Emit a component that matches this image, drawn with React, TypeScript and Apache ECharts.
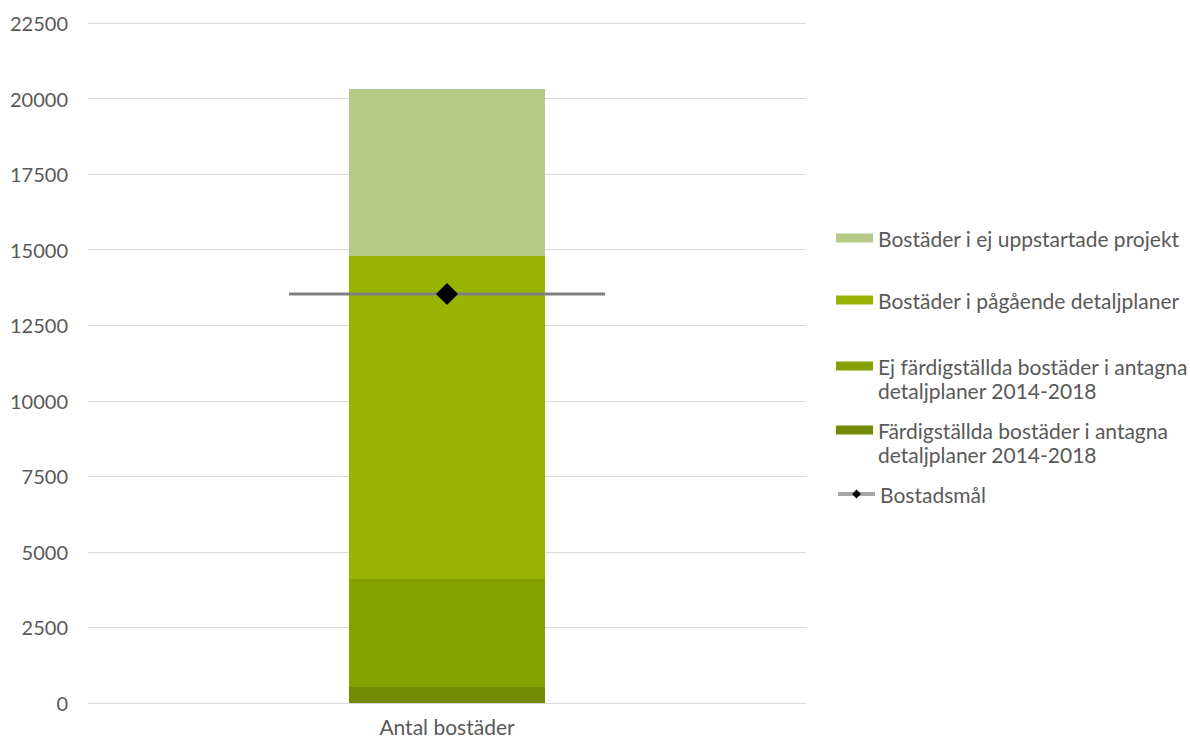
import React, { useEffect, useRef } from "react";
import * as echarts from "echarts";

const categories = ["Antal bostäder"];
const seriesNames = [
  "Färdigställda bostäder i antagna\ndetaljplaner 2014-2018",
  "Ej färdigställda bostäder i antagna\ndetaljplaner 2014-2018",
  "Bostäder i pågående detaljplaner",
  "Bostäder i ej uppstartade projekt",
];
const seriesValues = [530, 3570, 10690, 5530];
const seriesColors = ["#718a00", "#86a200", "#99b400", "#b6c986"];
const goalName = "Bostadsmål";
const goalValues = [13530];
const yTicks = { min: 0, max: 22500, interval: 2500 };

const FONT = "Lato, 'Open Sans', sans-serif";
const TEXT = "#595959";

export default function App() {
  const ref = useRef<HTMLDivElement>(null);
  useEffect(() => {
    if (!ref.current) return;
    const chart = echarts.init(ref.current, null, { renderer: "svg" });
    const barSeries = seriesNames.map((name, i) => ({
      name,
      type: "bar",
      stack: "total",
      barWidth: "27.3%",
      itemStyle: { color: seriesColors[i] },
      data: [seriesValues[i]],
    }));
    const legendTops = [226, 288, 330, 394, 482];
    const legendOrder = [seriesNames[3], seriesNames[2], seriesNames[1], seriesNames[0], goalName];
    const legends = legendOrder.map((name, i) => {
      const isGoal = name === goalName;
      return {
        data: [isGoal ? { name } : { name, icon: "rect" }],
        left: 836,
        top: legendTops[i],
        padding: 0,
        orient: "vertical",
        itemWidth: 37,
        itemHeight: isGoal ? 11 : 9,
        selectedMode: false,
        lineStyle: isGoal ? { width: 4, color: "#a6a6a6" } : undefined,
        formatter: (n: string) => (n.includes("\n") ? " \n" + n : n),
        textStyle: {
          color: TEXT,
          fontFamily: FONT,
          fontSize: 21,
          lineHeight: 24,
        },
      };
    });
    chart.setOption({
      animation: false,
      grid: { left: 88, right: 384, top: 23, bottom: 37, containLabel: false },
      legend: legends,
      xAxis: {
        type: "category",
        data: categories,
        axisLine: { lineStyle: { color: "#d9d9d9", width: 1 } },
        axisTick: { show: false },
        axisLabel: { color: TEXT, fontFamily: FONT, fontSize: 21, margin: 13 },
      },
      yAxis: {
        type: "value",
        min: yTicks.min,
        max: yTicks.max,
        interval: yTicks.interval,
        axisLine: { show: false },
        axisTick: { show: false },
        splitLine: { lineStyle: { color: "#d9d9d9", width: 1 } },
        axisLabel: {
          color: TEXT,
          fontFamily: FONT,
          fontSize: 20,
          margin: 20,
          formatter: (v: number) => String(v),
        },
      },
      series: [
        ...barSeries,
        {
          name: "goalLine",
          type: "custom",
          z: 5,
          data: [[0, goalValues[0]]],
          encode: { x: 0, y: 1 },
          renderItem: (params: any, api: any) => {
            const p = api.coord([api.value(0), api.value(1)]);
            const band = api.size([1, 0])[0];
            const half = band * 0.22;
            return {
              type: "line",
              shape: { x1: p[0] - half, y1: p[1], x2: p[0] + half, y2: p[1] },
              style: { stroke: "#808080", lineWidth: 3 },
            };
          },
        },
        {
          name: goalName,
          type: "line",
          z: 6,
          data: goalValues,
          symbol: "diamond",
          symbolSize: 22,
          itemStyle: { color: "#000000" },
          lineStyle: { color: "#a6a6a6", width: 4 },
        },
      ],
    });
    return () => chart.dispose();
  }, []);
  return (
    <div
      ref={ref}
      style={{ position: "fixed", left: 0, top: 0, width: 1190, height: 740, background: "#fff" }}
    />
  );
}
